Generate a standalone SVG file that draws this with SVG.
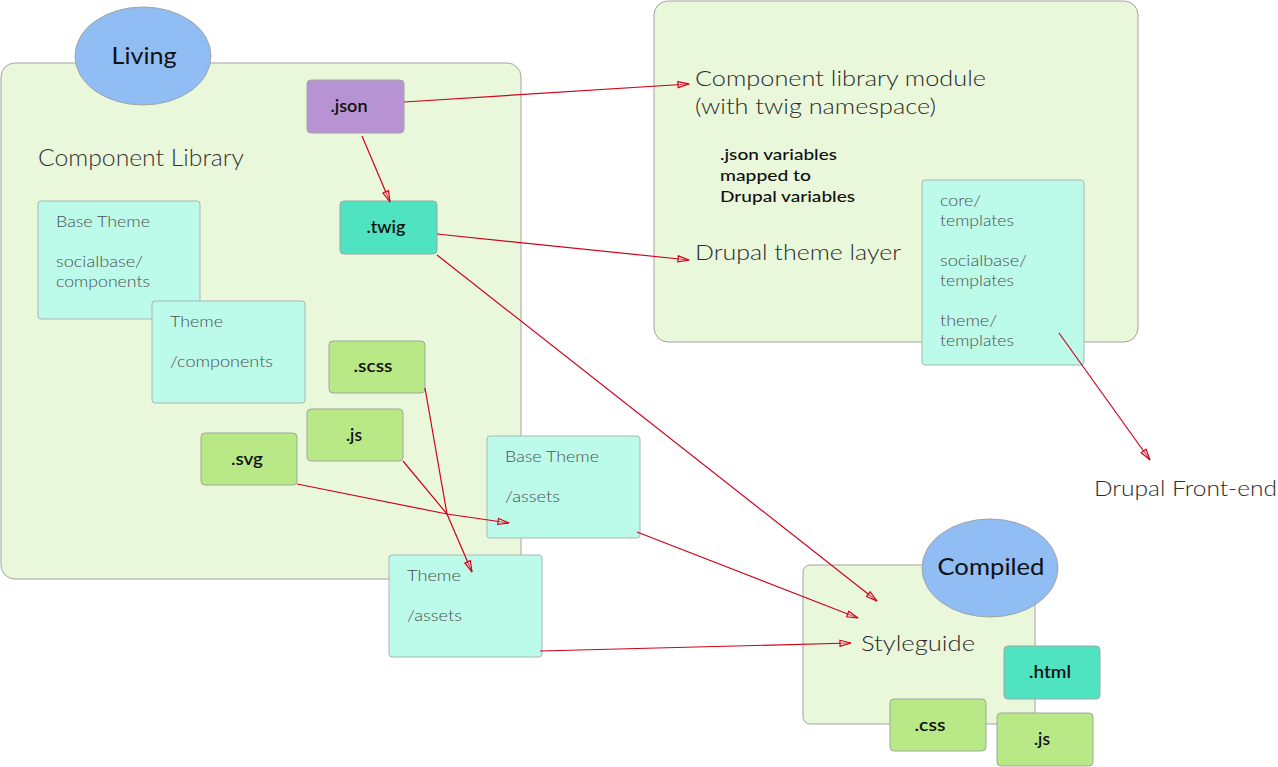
<svg xmlns="http://www.w3.org/2000/svg" width="1278" height="767" viewBox="0 0 1278 767">
<defs>
<style>
.cont{fill:#e9f7db;stroke:#a3a3a3;stroke-width:1}
.ell{fill:#8fbdf4;stroke:#a3a3a3;stroke-width:1}
.cyan{fill:#bcfaea;stroke:#a8b8b2;stroke-width:1}
.teal{fill:#50e3c2;stroke:#9aa8a3;stroke-width:1}
.purp{fill:#b793d4;stroke:#a3a3a3;stroke-width:1}
.lg{fill:#b8e986;stroke:#9fa89a;stroke-width:1}
text{font-family:Lato,"Open Sans","Liberation Sans",sans-serif}
.big{font-size:22px;font-weight:300;fill:#2b2b2b}
.hdr{font-size:24px;font-weight:300;fill:#333}
.lbl{font-size:16px;font-weight:300;fill:#4f4f4f}
.file{font-size:17px;font-weight:600;fill:#111;text-anchor:middle}
.note{font-size:16px;font-weight:500;fill:#111}
.ttl{font-size:24px;font-weight:400;fill:#111;text-anchor:middle}
.con{fill:none;stroke:#d0021b;stroke-width:1.2}
</style>
<marker id="arr" viewBox="0 0 12 8" refX="12" refY="4" markerWidth="13" markerHeight="8" markerUnits="userSpaceOnUse" orient="auto">
<path d="M1,1 L12,4 L1,7 Z" fill="#f4f4f4" fill-opacity="0.3" stroke="#d0021b" stroke-width="1.2"/>
</marker>
</defs>

<g id="living-container">
<rect class="cont" x="1" y="63" width="520" height="516" rx="14"/>
<text class="hdr" x="38" y="166" textLength="206" lengthAdjust="spacingAndGlyphs">Component Library</text>
</g>
<g id="living">
<ellipse class="ell" cx="143" cy="56" rx="68" ry="49"/>
<text class="ttl" x="144" y="64" textLength="65" lengthAdjust="spacingAndGlyphs">Living</text>
</g>
<g id="json">
<rect class="purp" x="307" y="80" width="97" height="53" rx="4"/>
<text class="file" x="349" y="112" textLength="37" lengthAdjust="spacingAndGlyphs">.json</text>
</g>
<g id="twig">
<rect class="teal" x="340" y="201" width="97" height="53" rx="4"/>
<text class="file" x="386" y="233" textLength="39" lengthAdjust="spacingAndGlyphs">.twig</text>
</g>
<g id="base-theme-components">
<rect class="cyan" x="38" y="201" width="162" height="118" rx="3"/>
<text class="lbl" x="56" y="227" textLength="94" lengthAdjust="spacingAndGlyphs">Base Theme</text>
<text class="lbl" x="56" y="267" textLength="87" lengthAdjust="spacingAndGlyphs">socialbase/</text>
<text class="lbl" x="56" y="287" textLength="94" lengthAdjust="spacingAndGlyphs">components</text>
</g>
<g id="theme-components">
<rect class="cyan" x="152" y="301" width="153" height="102" rx="3"/>
<text class="lbl" x="170" y="327" textLength="53" lengthAdjust="spacingAndGlyphs">Theme</text>
<text class="lbl" x="170" y="367" textLength="103" lengthAdjust="spacingAndGlyphs">/components</text>
</g>
<g id="scss">
<rect class="lg" x="329" y="341" width="96" height="52" rx="4"/>
<text class="file" x="373" y="372" textLength="39" lengthAdjust="spacingAndGlyphs">.scss</text>
</g>
<g id="js-living">
<rect class="lg" x="307" y="409" width="96" height="52" rx="4"/>
<text class="file" x="354" y="441" textLength="16" lengthAdjust="spacingAndGlyphs">.js</text>
</g>
<g id="svg">
<rect class="lg" x="201" y="433" width="96" height="52" rx="4"/>
<text class="file" x="247" y="465" textLength="32" lengthAdjust="spacingAndGlyphs">.svg</text>
</g>
<g id="base-theme-assets">
<rect class="cyan" x="487" y="436" width="153" height="102" rx="3"/>
<text class="lbl" x="505" y="462" textLength="94" lengthAdjust="spacingAndGlyphs">Base Theme</text>
<text class="lbl" x="505" y="502" textLength="55" lengthAdjust="spacingAndGlyphs">/assets</text>
</g>
<g id="theme-assets">
<rect class="cyan" x="389" y="555" width="153" height="102" rx="3"/>
<text class="lbl" x="407" y="581" textLength="54" lengthAdjust="spacingAndGlyphs">Theme</text>
<text class="lbl" x="407" y="621" textLength="55" lengthAdjust="spacingAndGlyphs">/assets</text>
</g>

<g id="drupal-container">
<rect class="cont" x="654" y="1" width="484" height="341" rx="14"/>
<text class="big" x="695" y="86" textLength="291" lengthAdjust="spacingAndGlyphs">Component library module</text>
<text class="big" x="695" y="114" textLength="241" lengthAdjust="spacingAndGlyphs">(with twig namespace)</text>
<text class="note" x="720" y="160" textLength="117" lengthAdjust="spacingAndGlyphs">.json variables</text>
<text class="note" x="720" y="181" textLength="91" lengthAdjust="spacingAndGlyphs">mapped to</text>
<text class="note" x="720" y="202" textLength="135" lengthAdjust="spacingAndGlyphs">Drupal variables</text>
<text class="big" x="695" y="260" textLength="206" lengthAdjust="spacingAndGlyphs">Drupal theme layer</text>
</g>
<g id="templates">
<rect class="cyan" x="922" y="180" width="162" height="185" rx="3"/>
<text class="lbl" x="940" y="206" textLength="41" lengthAdjust="spacingAndGlyphs">core/</text>
<text class="lbl" x="940" y="226" textLength="74" lengthAdjust="spacingAndGlyphs">templates</text>
<text class="lbl" x="940" y="266" textLength="87" lengthAdjust="spacingAndGlyphs">socialbase/</text>
<text class="lbl" x="940" y="286" textLength="74" lengthAdjust="spacingAndGlyphs">templates</text>
<text class="lbl" x="940" y="326" textLength="57" lengthAdjust="spacingAndGlyphs">theme/</text>
<text class="lbl" x="940" y="346" textLength="74" lengthAdjust="spacingAndGlyphs">templates</text>
</g>
<g id="drupal-front-end">
<text class="big" x="1094" y="496" textLength="183" lengthAdjust="spacingAndGlyphs">Drupal Front-end</text>
</g>

<g id="styleguide">
<rect class="cont" x="803" y="565" width="232" height="159" rx="7"/>
<text class="big" x="861" y="651" textLength="114" lengthAdjust="spacingAndGlyphs">Styleguide</text>
</g>
<g id="compiled">
<ellipse class="ell" cx="990" cy="568" rx="68" ry="49"/>
<text class="ttl" x="991" y="575" style="font-size:23px" textLength="107" lengthAdjust="spacingAndGlyphs">Compiled</text>
</g>
<g id="html">
<rect class="teal" x="1004" y="646" width="96" height="53" rx="4"/>
<text class="file" x="1050" y="678" textLength="42" lengthAdjust="spacingAndGlyphs">.html</text>
</g>
<g id="css">
<rect class="lg" x="890" y="699" width="96" height="52" rx="4"/>
<text class="file" x="930" y="731" textLength="31" lengthAdjust="spacingAndGlyphs">.css</text>
</g>
<g id="js-compiled">
<rect class="lg" x="997" y="713" width="96" height="53" rx="4"/>
<text class="file" x="1042" y="745" textLength="16" lengthAdjust="spacingAndGlyphs">.js</text>
</g>

<g id="connectors">
<path class="con" d="M404,102 L689,84" marker-end="url(#arr)"/>
<path class="con" d="M362,136 L390,202" marker-end="url(#arr)"/>
<path class="con" d="M437,234 L689,260" marker-end="url(#arr)"/>
<path class="con" d="M437,255 L877,601" marker-end="url(#arr)"/>
<path class="con" d="M425,388 L447,514 L472,572" marker-end="url(#arr)"/>
<path class="con" d="M403,461 L447,514"/>
<path class="con" d="M297,484 L447,514 L509,523" marker-end="url(#arr)"/>
<path class="con" d="M637,532 L858,618" marker-end="url(#arr)"/>
<path class="con" d="M540,651 L851,643" marker-end="url(#arr)"/>
<path class="con" d="M1059,333 L1150,460" marker-end="url(#arr)"/>
</g>
</svg>
